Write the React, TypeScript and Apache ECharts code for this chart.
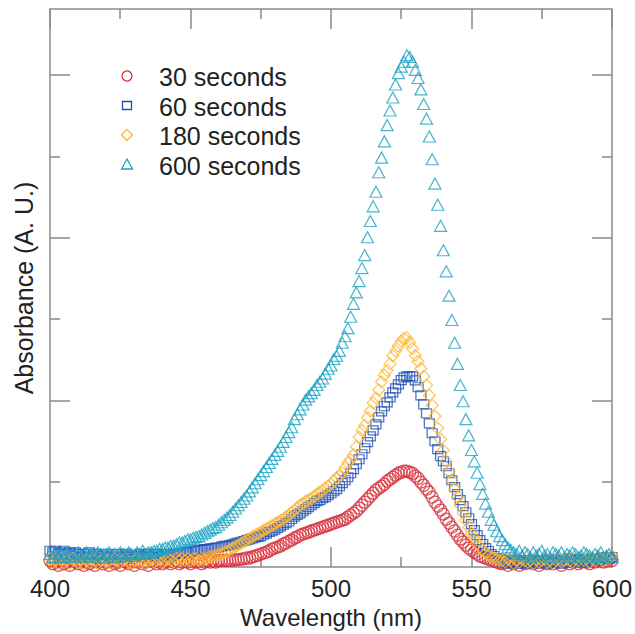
import React, { useEffect, useRef } from "react";
import * as echarts from "echarts";

// wavelength grid, 1 nm steps from 400 to 600 nm
const wavelengths: number[] = Array.from({ length: 201 }, (_, i) => 400 + i);

const seriesNames = ["30 seconds", "60 seconds", "180 seconds", "600 seconds"];
const seriesColors = ["#d7303c", "#1f4fb4", "#ffb52e", "#1aa3c4"];

// absorbance (arbitrary units, 1 unit = one major tick)
const abs30 = [
  0.01, -0.01, 0.00, -0.02, 0.01, -0.01, 0.00, -0.02, 0.01, 0.00, // 400
  -0.01, 0.01, -0.02, 0.00, -0.01, 0.01, -0.02, 0.00, 0.01, -0.01, // 410
  0.00, -0.02, 0.01, -0.01, 0.00, -0.02, 0.01, 0.00, -0.01, 0.01, // 420
  -0.02, 0.00, 0.01, -0.01, 0.00, -0.02, 0.01, 0.00, -0.01, 0.01, // 430
  -0.01, 0.00, 0.01, -0.01, 0.00, 0.01, -0.01, 0.00, 0.01, 0.00, // 440
  -0.01, 0.01, 0.00, 0.01, -0.01, 0.00, 0.01, 0.00, 0.01, 0.00, // 450
  0.01, 0.01, 0.01, 0.01, 0.01, 0.012, 0.015, 0.015, 0.018, 0.02, // 460
  0.025, 0.025, 0.031, 0.037, 0.043, 0.049, 0.055, 0.061, 0.068, 0.08, // 470
  0.086, 0.092, 0.098, 0.111, 0.117, 0.129, 0.135, 0.148, 0.154, 0.166, // 480
  0.172, 0.178, 0.184, 0.191, 0.197, 0.203, 0.209, 0.215, 0.221, 0.227, // 490
  0.234, 0.24, 0.246, 0.252, 0.258, 0.264, 0.277, 0.289, 0.301, 0.313, // 500
  0.332, 0.35, 0.369, 0.387, 0.406, 0.424, 0.443, 0.455, 0.467, 0.479, // 510
  0.498, 0.51, 0.522, 0.535, 0.547, 0.553, 0.559, 0.559, 0.553, 0.547, // 520
  0.529, 0.516, 0.492, 0.473, 0.449, 0.43, 0.4, 0.369, 0.344, 0.32, // 530
  0.295, 0.264, 0.24, 0.215, 0.191, 0.166, 0.141, 0.123, 0.104, 0.086, // 540
  0.074, 0.061, 0.049, 0.037, 0.031, 0.025, 0.018, 0.012, 0.006, 0.0, // 550
  -0.006, -0.01, 0.00, -0.02, 0.00, -0.01, 0.01, -0.02, 0.00, -0.01, // 560
  0.00, 0.01, -0.01, 0.00, -0.02, 0.00, 0.01, -0.01, 0.00, -0.01, // 570
  0.01, 0.00, -0.02, 0.00, 0.01, -0.01, 0.00, 0.01, -0.01, 0.00, // 580
  0.01, 0.00, -0.01, 0.01, 0.00, 0.01, 0.02, 0.00, 0.01, 0.02, // 590
  0.01, // 600
];

const abs60 = [
  0.07, 0.06, 0.07, 0.05, 0.06, 0.07, 0.05, 0.06, 0.04, 0.06, // 400
  0.05, 0.03, 0.05, 0.04, 0.06, 0.03, 0.05, 0.04, 0.02, 0.04, // 410
  0.05, 0.03, 0.04, 0.02, 0.05, 0.03, 0.04, 0.05, 0.03, 0.04, // 420
  0.02, 0.04, 0.05, 0.03, 0.04, 0.05, 0.03, 0.04, 0.05, 0.03, // 430
  0.04, 0.05, 0.03, 0.04, 0.05, 0.05, 0.05, 0.055, 0.06, 0.06, // 440
  0.065, 0.07, 0.07, 0.075, 0.075, 0.08, 0.08, 0.085, 0.085, 0.09, // 450
  0.09, 0.095, 0.1, 0.1, 0.105, 0.11, 0.115, 0.12, 0.125, 0.13, // 460
  0.135, 0.14, 0.145, 0.15, 0.155, 0.16, 0.17, 0.175, 0.185, 0.19, // 470
  0.2, 0.21, 0.22, 0.23, 0.24, 0.25, 0.265, 0.28, 0.29, 0.3, // 480
  0.313, 0.326, 0.338, 0.35, 0.363, 0.375, 0.381, 0.393, 0.4, 0.412, // 490
  0.424, 0.436, 0.449, 0.467, 0.486, 0.504, 0.522, 0.547, 0.572, 0.602, // 500
  0.633, 0.664, 0.701, 0.738, 0.774, 0.811, 0.848, 0.891, 0.928, 0.959, // 510
  0.983, 1.014, 1.045, 1.069, 1.094, 1.12, 1.137, 1.143, 1.143, 1.143, // 520
  1.119, 1.076, 1.026, 0.971, 0.916, 0.854, 0.793, 0.744, 0.695, 0.652, // 530
  0.621, 0.59, 0.547, 0.504, 0.461, 0.418, 0.381, 0.344, 0.307, 0.27, // 540
  0.234, 0.197, 0.166, 0.135, 0.111, 0.086, 0.068, 0.049, 0.037, 0.025, // 550
  0.018, 0.01, 0.00, -0.01, 0.01, 0.00, -0.01, 0.00, 0.01, -0.01, // 560
  0.00, 0.01, 0.00, -0.01, 0.00, 0.01, 0.00, -0.01, 0.01, 0.00, // 570
  0.01, 0.00, -0.01, 0.00, 0.01, 0.02, 0.01, 0.00, 0.01, 0.02, // 580
  0.01, 0.00, 0.01, 0.02, 0.01, 0.02, 0.01, 0.02, 0.03, 0.02, // 590
  0.03, // 600
];

const abs180 = [
  0.02, 0.00, 0.01, -0.01, 0.02, 0.00, 0.01, -0.01, 0.02, 0.01, // 400
  0.00, 0.02, -0.01, 0.01, 0.00, 0.02, 0.01, -0.01, 0.01, 0.02, // 410
  0.00, 0.01, -0.01, 0.02, 0.01, 0.00, 0.01, 0.02, 0.00, -0.01, // 420
  0.01, 0.02, 0.00, 0.01, -0.01, 0.01, 0.02, 0.00, 0.01, 0.02, // 430
  0.00, 0.01, 0.02, 0.01, 0.00, 0.02, 0.01, 0.02, 0.01, 0.02, // 440
  0.01, 0.02, 0.02, 0.01, 0.02, 0.02, 0.025, 0.03, 0.035, 0.04, // 450
  0.045, 0.05, 0.06, 0.065, 0.075, 0.085, 0.095, 0.105, 0.115, 0.125, // 460
  0.135, 0.145, 0.155, 0.165, 0.175, 0.185, 0.195, 0.205, 0.215, 0.225, // 470
  0.235, 0.245, 0.255, 0.265, 0.28, 0.29, 0.305, 0.32, 0.335, 0.35, // 480
  0.36, 0.375, 0.385, 0.39, 0.405, 0.42, 0.43, 0.44, 0.455, 0.47, // 490
  0.48, 0.5, 0.52, 0.53, 0.55, 0.58, 0.61, 0.63, 0.66, 0.71, // 500
  0.77, 0.81, 0.84, 0.89, 0.93, 0.98, 1.01, 1.06, 1.11, 1.15, // 510
  1.18, 1.22, 1.27, 1.3, 1.33, 1.36, 1.377, 1.38, 1.352, 1.315, // 520
  1.272, 1.235, 1.192, 1.143, 1.088, 1.026, 0.965, 0.897, 0.824, 0.756, // 530
  0.688, 0.621, 0.559, 0.504, 0.449, 0.399, 0.35, 0.301, 0.258, 0.215, // 540
  0.178, 0.148, 0.117, 0.092, 0.074, 0.055, 0.043, 0.031, 0.025, 0.018, // 550
  0.012, 0.01, 0.00, 0.02, 0.01, -0.01, 0.01, 0.00, 0.02, 0.01, // 560
  0.00, 0.01, -0.01, 0.02, 0.00, 0.01, 0.02, 0.00, 0.01, -0.01, // 570
  0.01, 0.02, 0.00, 0.01, 0.02, 0.01, 0.00, 0.02, 0.01, 0.03, // 580
  0.01, 0.02, 0.00, 0.02, 0.01, 0.03, 0.02, 0.01, 0.03, 0.02, // 590
  0.04, // 600
];

const abs600 = [
  0.05, 0.03, 0.06, 0.04, 0.05, 0.03, 0.06, 0.04, 0.05, 0.03, // 400
  0.06, 0.04, 0.05, 0.06, 0.03, 0.05, 0.04, 0.06, 0.05, 0.03, // 410
  0.05, 0.06, 0.04, 0.05, 0.03, 0.06, 0.05, 0.04, 0.06, 0.05, // 420
  0.04, 0.06, 0.05, 0.07, 0.05, 0.06, 0.06, 0.07, 0.07, 0.08, // 430
  0.08, 0.09, 0.09, 0.1, 0.1, 0.11, 0.12, 0.12, 0.13, 0.14, // 440
  0.14, 0.15, 0.155, 0.16, 0.17, 0.18, 0.19, 0.2, 0.21, 0.215, // 450
  0.23, 0.245, 0.26, 0.275, 0.29, 0.31, 0.33, 0.35, 0.37, 0.39, // 460
  0.41, 0.435, 0.46, 0.485, 0.51, 0.535, 0.56, 0.585, 0.61, 0.635, // 470
  0.66, 0.685, 0.71, 0.74, 0.77, 0.8, 0.83, 0.88, 0.91, 0.94, // 480
  0.97, 1.0, 1.02, 1.04, 1.06, 1.09, 1.11, 1.13, 1.16, 1.19, // 490
  1.21, 1.25, 1.27, 1.3, 1.35, 1.39, 1.44, 1.51, 1.59, 1.66, // 500
  1.73, 1.81, 1.89, 2.0, 2.1, 2.19, 2.28, 2.4, 2.49, 2.59, // 510
  2.69, 2.78, 2.86, 2.94, 3.01, 3.05, 3.08, 3.12, 3.11, 3.08, // 520
  3.03, 2.98, 2.91, 2.82, 2.73, 2.62, 2.48, 2.33, 2.2, 2.07, // 530
  1.92, 1.79, 1.64, 1.49, 1.35, 1.22, 1.09, 0.99, 0.88, 0.78, // 540
  0.69, 0.62, 0.55, 0.48, 0.42, 0.36, 0.31, 0.26, 0.23, 0.19, // 550
  0.16, 0.135, 0.11, 0.09, 0.075, 0.06, 0.05, 0.07, 0.04, 0.06, // 560
  0.05, 0.03, 0.06, 0.04, 0.05, 0.07, 0.04, 0.05, 0.03, 0.06, // 570
  0.05, 0.04, 0.06, 0.03, 0.05, 0.04, 0.06, 0.05, 0.03, 0.04, // 580
  0.06, 0.05, 0.04, 0.03, 0.05, 0.04, 0.06, 0.03, 0.04, 0.05, // 590
  0.03, // 600
];

const seriesValues = [abs30, abs60, abs180, abs600];
const seriesSymbols = ["circle", "rect", "diamond", "triangle"];
const seriesSymbolSizes: (number | number[])[] = [12, [10, 9], [12, 12], [12, 11]];

const FONT = "'Liberation Sans', Arial, Helvetica, sans-serif";
const AX = "#8a8a8a";
const TXT = "#222";

// plot-range of the data axis (major tick = 1 unit)
const Y_MIN = -0.031;
const Y_MAX = 3.405;

export default function App() {
  const ref = useRef<HTMLDivElement>(null);

  useEffect(() => {
    if (!ref.current) return;
    const chart = echarts.init(ref.current, undefined, { renderer: "svg" });

    const frameLine = { show: true, onZero: false, lineStyle: { color: AX, width: 1.5 } };
    const tickStyle = { color: AX, width: 1.5 };

    const legendItems: any[] = [];
    const rowY = [76, 105.5, 135, 164.5];
    const ix = 127;
    rowY.forEach((y, i) => {
      const stroke = seriesColors[i];
      const st = { fill: "none", stroke, lineWidth: 1.3 };
      if (i === 0) legendItems.push({ type: "circle", shape: { cx: ix, cy: y, r: 5 }, style: st });
      if (i === 1) legendItems.push({ type: "rect", shape: { x: ix - 4.5, y: y - 4, width: 9, height: 8 }, style: st });
      if (i === 2)
        legendItems.push({
          type: "polygon",
          shape: { points: [[ix, y - 5.5], [ix + 5.5, y], [ix, y + 5.5], [ix - 5.5, y]] },
          style: st,
        });
      if (i === 3)
        legendItems.push({
          type: "polygon",
          shape: { points: [[ix, y - 5.5], [ix + 5.5, y + 4.5], [ix - 5.5, y + 4.5]] },
          style: st,
        });
      legendItems.push({
        type: "text",
        x: 159,
        y: y + 1,
        style: {
          text: seriesNames[i],
          fontSize: 25,
          fontFamily: FONT,
          fill: TXT,
          verticalAlign: "middle",
          align: "left",
        },
      });
    });

    const option: any = {
      animation: false,
      backgroundColor: "#ffffff",
      grid: [
        { left: 50, right: 23, top: 9, bottom: 66 },
        { left: 50, right: 23, top: 75, bottom: 71 },
      ],
      xAxis: [
        {
          type: "value",
          gridIndex: 0,
          position: "bottom",
          min: 400,
          max: 600,
          interval: 50,
          axisLine: frameLine,
          axisTick: { show: true, inside: true, length: 20, lineStyle: tickStyle },
          minorTick: { show: true, splitNumber: 2, length: 10, lineStyle: tickStyle },
          splitLine: { show: false },
          minorSplitLine: { show: false },
          axisLabel: { show: true, margin: 9, fontSize: 24, fontFamily: FONT, color: TXT },
          name: "Wavelength (nm)",
          nameLocation: "middle",
          nameGap: 36,
          nameTextStyle: { fontSize: 24, fontFamily: FONT, color: TXT },
        },
        {
          type: "value",
          gridIndex: 0,
          position: "top",
          min: 400,
          max: 600,
          interval: 50,
          axisLine: frameLine,
          axisTick: { show: true, inside: true, length: 20, lineStyle: tickStyle },
          minorTick: { show: true, splitNumber: 2, length: 10, lineStyle: tickStyle },
          splitLine: { show: false },
          axisLabel: { show: false },
        },
        { type: "value", gridIndex: 1, show: false, min: 400, max: 600 },
      ],
      yAxis: [
        {
          type: "value",
          gridIndex: 0,
          position: "left",
          min: Y_MIN,
          max: Y_MAX,
          axisLine: frameLine,
          axisTick: { show: false },
          axisLabel: { show: false },
          splitLine: { show: false },
          name: "Absorbance (A. U.)",
          nameLocation: "middle",
          nameRotate: 90,
          nameGap: 14,
          nameTextStyle: { fontSize: 25, fontFamily: FONT, color: TXT },
        },
        {
          type: "value",
          gridIndex: 0,
          position: "right",
          min: Y_MIN,
          max: Y_MAX,
          axisLine: frameLine,
          axisTick: { show: false },
          axisLabel: { show: false },
          splitLine: { show: false },
        },
        {
          type: "value",
          gridIndex: 1,
          position: "left",
          min: 0,
          max: 3,
          interval: 1,
          axisLine: { show: false, onZero: false },
          axisTick: { show: true, inside: true, length: 20, lineStyle: tickStyle },
          minorTick: { show: true, splitNumber: 2, length: 10, lineStyle: tickStyle },
          axisLabel: { show: false },
          splitLine: { show: false },
        },
        {
          type: "value",
          gridIndex: 1,
          position: "right",
          min: 0,
          max: 3,
          interval: 1,
          axisLine: { show: false, onZero: false },
          axisTick: { show: true, inside: true, length: 20, lineStyle: tickStyle },
          minorTick: { show: true, splitNumber: 2, length: 10, lineStyle: tickStyle },
          axisLabel: { show: false },
          splitLine: { show: false },
        },
      ],
      graphic: legendItems,
      series: seriesNames.map((name, i) => ({
        name,
        type: "scatter",
        xAxisIndex: 0,
        yAxisIndex: 0,
        symbol: seriesSymbols[i],
        symbolSize: seriesSymbolSizes[i],
        clip: false,
        itemStyle: { color: "rgba(255,255,255,0)", borderColor: seriesColors[i], borderWidth: 1.2 },
        data: wavelengths.map((w, k) => [w, seriesValues[i][k]]),
      })),
    };

    chart.setOption(option);
    return () => chart.dispose();
  }, []);

  return <div ref={ref} style={{ position: "fixed", left: 0, top: 0, width: 635, height: 634 }} />;
}
